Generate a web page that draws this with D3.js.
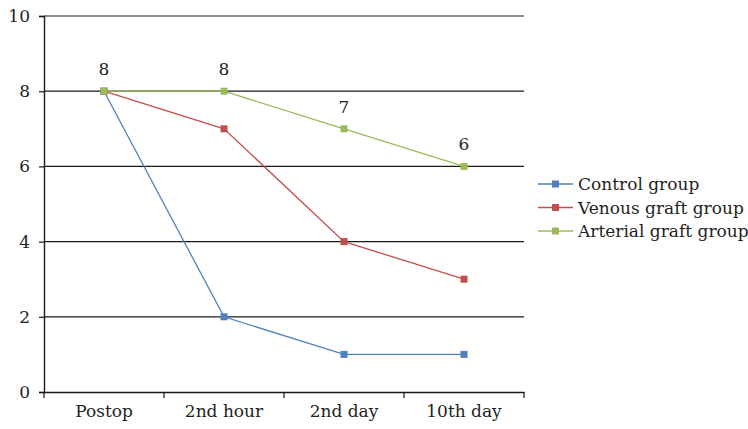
<!DOCTYPE html>
<html><head><meta charset="utf-8">
<script src="https://cdn.jsdelivr.net/npm/d3@7"></script>
<style>body{margin:0;background:#fff}svg{display:block}</style>
</head><body>
<script>
const categories = ["Postop","2nd hour","2nd day","10th day"];
const seriesNames = ["Control group","Venous graft group","Arterial graft group"];
const control = [8,2,1,1];
const venous = [8,7,4,3];
const arterial = [8,8,7,6];
const yTicks = [0,2,4,6,8,10];
const colors = ["#4F81BD","#C0504D","#9BBB59"];

const FONT = "DejaVu Serif";
const W=748,H=429;
const m={left:44,right:224,top:16,bottom:37};
const svg=d3.select("body").append("svg").attr("width",W).attr("height",H)
  .attr("font-family",FONT);
const x=d3.scaleBand().domain(categories).range([m.left,W-m.right]);
const y=d3.scaleLinear().domain([0,10]).range([H-m.bottom,m.top]);
const fs=17;

svg.append("g").selectAll("line").data(yTicks.filter(d=>d>0)).join("line")
 .attr("x1",m.left).attr("x2",W-m.right).attr("y1",d=>y(d)).attr("y2",d=>y(d))
 .attr("stroke","#1a1a1a").attr("stroke-width",1.2);

const ya=svg.append("g").attr("transform",`translate(${m.left},0)`)
 .call(d3.axisLeft(y).tickValues(yTicks).tickSize(5).tickPadding(9));
ya.attr("font-family",FONT).attr("font-size",fs);
ya.select(".domain").attr("stroke","#1a1a1a").attr("stroke-width",1.4);
ya.selectAll(".tick line").attr("stroke","#1a1a1a").attr("stroke-width",1.2);
ya.selectAll("text").attr("fill","#231f20");

const xa=svg.append("g").attr("transform",`translate(0,${y(0)})`)
 .call(d3.axisBottom(x).tickSize(0).tickPadding(13));
xa.attr("font-family",FONT).attr("font-size",fs);
xa.select(".domain").attr("stroke","#1a1a1a").attr("stroke-width",1.4);
xa.selectAll("text").attr("fill","#231f20");
const bounds=categories.map(c=>x(c)).concat([x(categories[categories.length-1])+x.bandwidth()]);
xa.append("g").selectAll("line").data(bounds).join("line")
 .attr("x1",d=>d).attr("x2",d=>d).attr("y1",0).attr("y2",6)
 .attr("stroke","#1a1a1a").attr("stroke-width",1.2);

const cx=c=>x(c)+x.bandwidth()/2;
const all=[control,venous,arterial];
const line=d3.line().x((d,i)=>cx(categories[i])).y(d=>y(d));
all.forEach((s,k)=>{
  svg.append("path").datum(s).attr("d",line).attr("fill","none").attr("stroke",colors[k]).attr("stroke-width",1.3);
  svg.append("g").selectAll("rect").data(s).join("rect")
   .attr("x",(d,i)=>cx(categories[i])-3.5).attr("y",d=>y(d)-3.5)
   .attr("width",7).attr("height",7).attr("fill",colors[k]);
});
svg.append("g").selectAll("text").data(arterial).join("text")
 .attr("x",(d,i)=>cx(categories[i])).attr("y",d=>y(d)-16)
 .attr("text-anchor","middle").attr("font-size",fs).attr("fill","#231f20").text(d=>d);

const lg=svg.append("g");
seriesNames.forEach((n,k)=>{
  const ly=184+k*23.5;
  lg.append("line").attr("x1",538).attr("x2",573).attr("y1",ly).attr("y2",ly).attr("stroke",colors[k]).attr("stroke-width",1.3);
  lg.append("rect").attr("x",552).attr("y",ly-3.5).attr("width",7).attr("height",7).attr("fill",colors[k]);
  lg.append("text").attr("x",578).attr("y",ly+6).attr("font-size",fs).attr("fill","#231f20").text(n);
});
</script>
</body></html>
